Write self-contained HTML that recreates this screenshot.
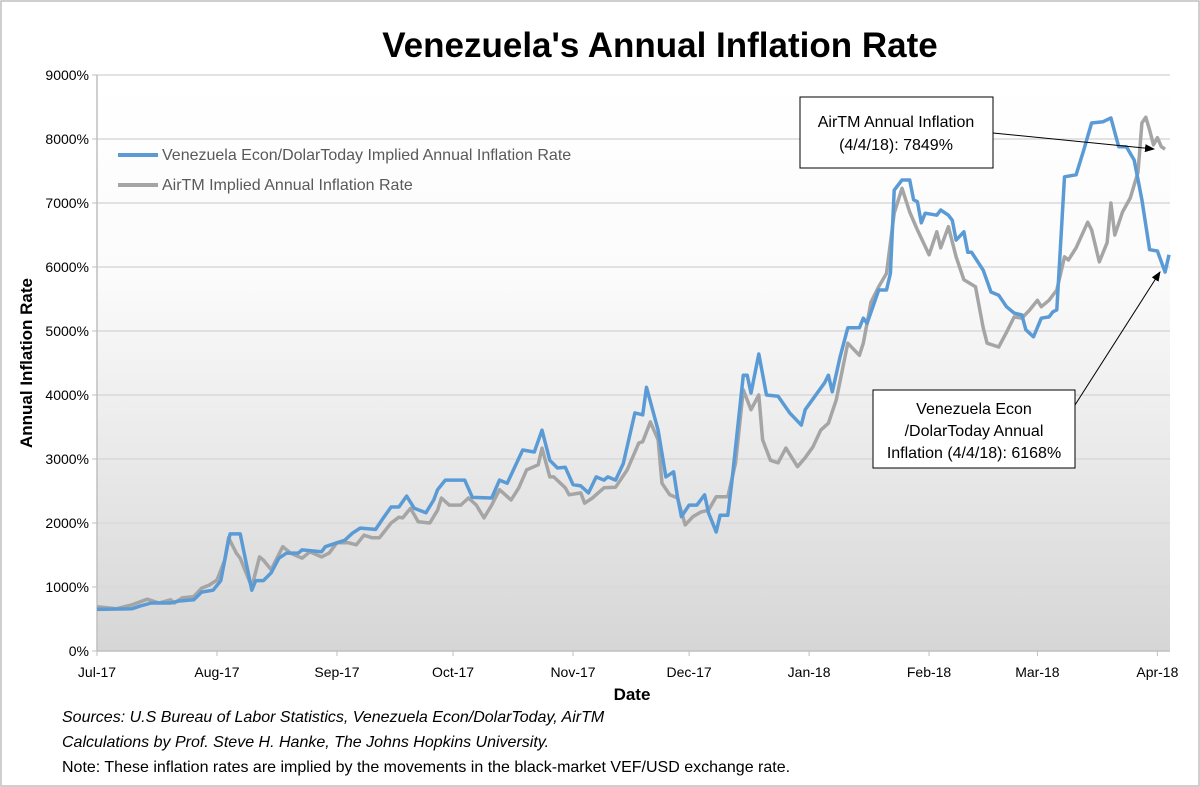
<!DOCTYPE html>
<html><head><meta charset="utf-8"><style>
body{margin:0;background:#fff;}
svg{display:block;font-family:"Liberation Sans",sans-serif;}
</style></head><body>
<svg id="chart" width="1200" height="787" viewBox="0 0 1200 787">
<defs>
<linearGradient id="bg" x1="0" y1="0" x2="0" y2="1">
<stop offset="0" stop-color="#ffffff"/><stop offset="0.35" stop-color="#fbfbfb"/><stop offset="1" stop-color="#d6d6d6"/>
</linearGradient>
<marker id="ah" markerWidth="10" markerHeight="8" refX="9" refY="4" orient="auto"><path d="M0,0 L10,4 L0,8 z" fill="#000"/></marker>
</defs>
<rect x="1" y="1" width="1198" height="785" fill="#fff" stroke="#bfbfbf" stroke-width="1.5"/>
<rect x="97" y="75" width="1073" height="576" fill="url(#bg)"/>
<text x="660" y="57" font-size="35" font-weight="bold" text-anchor="middle" fill="#000">Venezuela's Annual Inflation Rate</text>
<g id="grid"></g><g id="yt"></g><g id="xt"></g><g id="lines"></g>
<text x="632" y="700" font-size="17" font-weight="bold" text-anchor="middle">Date</text>
<text transform="translate(32,363) rotate(-90)" font-size="17" font-weight="bold" text-anchor="middle">Annual Inflation Rate</text>
<g>
<line x1="118" y1="155" x2="158" y2="155" stroke="#5b9bd5" stroke-width="4"/>
<text x="162" y="160" font-size="16" fill="#595959">Venezuela Econ/DolarToday Implied Annual Inflation Rate</text>
<line x1="118" y1="185" x2="158" y2="185" stroke="#a5a5a5" stroke-width="4"/>
<text x="162" y="190" font-size="16" fill="#595959">AirTM Implied Annual Inflation Rate</text>
</g>
<g>
<line x1="993" y1="133" x2="1154" y2="149" stroke="#000" stroke-width="1" marker-end="url(#ah)"/>
<rect x="800" y="97" width="193" height="71" fill="#fff" stroke="#000" stroke-width="1"/>
<text x="896" y="127" font-size="16" text-anchor="middle">AirTM Annual Inflation</text>
<text x="896" y="150" font-size="16" text-anchor="middle">(4/4/18): 7849%</text>
</g>
<g>
<line x1="1075" y1="405" x2="1160" y2="272" stroke="#000" stroke-width="1" marker-end="url(#ah)"/>
<rect x="873" y="390" width="202" height="78" fill="#fff" stroke="#000" stroke-width="1"/>
<text x="974" y="414" font-size="16" text-anchor="middle">Venezuela Econ</text>
<text x="974" y="436" font-size="16" text-anchor="middle">/DolarToday Annual</text>
<text x="974" y="458" font-size="16" text-anchor="middle">Inflation (4/4/18): 6168%</text>
</g>
<g font-size="16">
<text x="62" y="722" font-style="italic">Sources: U.S Bureau of Labor Statistics, Venezuela Econ/DolarToday, AirTM</text>
<text x="62" y="747" font-style="italic">Calculations by Prof. Steve H. Hanke, The Johns Hopkins University.</text>
<text x="62" y="772">Note: These inflation rates are implied by the movements in the black-market VEF/USD exchange rate.</text>
</g>
</svg>
<script>
const yTicks=[0,1000,2000,3000,4000,5000,6000,7000,8000,9000];
const xTickLabels=["Jul-17","Aug-17","Sep-17","Oct-17","Nov-17","Dec-17","Jan-18","Feb-18","Mar-18","Apr-18"];
const xTickDays=[0,31,62,92,123,153,184,215,243,274];
const blueDays=[0,9,11,14,19,21,25,27,30,32,34,34.4,37,40,41,43,45,47,49,52,53,58,59,62,64,66,68,72,74,76,78,80,82,85,87,88,90,95,97,102,104,106,110,113,115,117,119,121,123,125,127,129,131,132,134,136,139,141,142,145,147,149,150,151,153,155,157,158,160,161,163,164,167,168,169,171,173,176,179,182,183,188,189,190,192,194,197,198,199,202,204,205,206,208,210,211,212,213,214,217,218,220,221,222,224,225,226,229,231,233,235,237,239,240,242,244,246,247,248,250,253,255,257,260,262,264,266,268,270,272,274,276,277];
const blueVals=[650,660,700,750,750,780,800,920,950,1100,1730,1830,1830,950,1100,1100,1220,1450,1530,1530,1580,1550,1630,1690,1730,1840,1920,1900,2080,2250,2250,2420,2230,2160,2360,2520,2670,2670,2400,2390,2670,2620,3140,3110,3450,2980,2860,2870,2600,2580,2470,2720,2670,2720,2670,2930,3720,3690,4120,3450,2720,2800,2410,2100,2280,2280,2440,2160,1860,2120,2120,2620,4310,4310,4030,4640,4000,3980,3720,3530,3770,4190,4310,4050,4590,5050,5050,5200,5120,5640,5640,5900,7200,7360,7360,7050,7020,6690,6840,6810,6890,6810,6730,6420,6550,6230,6230,5950,5610,5560,5380,5280,5250,5020,4910,5200,5220,5300,5330,7410,7440,7830,8250,8270,8330,7880,7880,7670,7050,6270,6250,5920,6190];
const grayDays=[0,5,9,13,16,19,20,22,25,27,29,31,33,34,36,37,40,42,43,45,46,48,50,53,55,58,60,62,65,67,69,71,73,76,78,79,81,83,86,88,89,91,94,96,98,100,102,104,107,109,111,114,115,117,118,121,122,125,126,128,131,134,137,140,141,143,145,146,148,150,152,154,156,158,160,163,165,167,169,171,172,174,176,178,181,183,185,187,189,191,194,197,198,200,202,204,206,208,210,212,215,217,218,220,222,224,227,229,230,233,235,237,239,241,243,244,246,248,250,251,253,256,257,259,261,262,263,265,267,269,270,271,272,273,274,275,276];
const grayVals=[690,660,720,810,750,800,750,830,850,980,1030,1110,1420,1770,1530,1450,1000,1470,1420,1270,1390,1630,1530,1450,1550,1470,1530,1690,1690,1660,1810,1770,1770,2000,2090,2080,2230,2020,2000,2200,2390,2280,2280,2390,2280,2080,2280,2520,2360,2550,2830,2910,3170,2720,2720,2550,2440,2470,2310,2390,2550,2560,2830,3250,3270,3580,3300,2620,2440,2390,1970,2100,2170,2200,2410,2410,2940,4080,3770,4000,3300,2980,2940,3170,2880,3020,3190,3450,3560,3920,4810,4620,4810,5450,5690,5900,6840,7230,6860,6580,6190,6550,6300,6630,6160,5800,5690,5050,4810,4750,4980,5220,5200,5330,5480,5380,5480,5640,6160,6110,6300,6700,6580,6080,6380,7000,6500,6860,7080,7480,8250,8340,8140,7910,8020,7880,7840];

const NS="http://www.w3.org/2000/svg";
const X0=97,PX=3.87,Y0=651,PY=0.064;
function xs(d){return X0+d*PX;}
function ys(v){return Y0-v*PY;}
function mk(tag,attrs,parent){const e=document.createElementNS(NS,tag);for(const k in attrs)e.setAttribute(k,attrs[k]);document.getElementById(parent).appendChild(e);return e;}
yTicks.forEach(function(t){
  const y=ys(t);
  if(t>0){const g=mk('line',{x1:X0,x2:1170,y1:y,y2:y,stroke:'#d9d9d9','stroke-width':1.5},'grid');
  
  }
  const tk=mk('line',{x1:X0-5,x2:X0,y1:y,y2:y,stroke:'#bfbfbf'},'grid');
  
  
  const tx=mk('text',{x:X0-8,y:y+5,'font-size':14,'text-anchor':'end',fill:'#000'},'yt');
  tx.textContent=t+'%';
  
  
});
const ax=mk('line',{x1:X0,x2:X0,y1:75,y2:Y0,stroke:'#bfbfbf','stroke-width':1.5},'grid');


const bx=mk('line',{x1:X0,x2:1170,y1:Y0,y2:Y0,stroke:'#bfbfbf','stroke-width':1.5},'grid');


xTickDays.forEach(function(d,i){
  const x=xs(d);
  const tk=mk('line',{x1:x,x2:x,y1:Y0,y2:Y0+5,stroke:'#bfbfbf'},'xt');
  
  
  const tx=mk('text',{x:x,y:Y0+26,'font-size':14,'text-anchor':'middle'},'xt');
  tx.textContent=xTickLabels[i];
  
  
});
function path(days,vals){return days.map(function(d,i){return (i?'L':'M')+xs(d).toFixed(1)+','+ys(vals[i]).toFixed(1);}).join(' ');}
const gl=mk('path',{d:path(grayDays,grayVals),fill:'none',stroke:'#a5a5a5','stroke-width':3.5,'stroke-linejoin':'round'},'lines');


const bl=mk('path',{d:path(blueDays,blueVals),fill:'none',stroke:'#5b9bd5','stroke-width':3.5,'stroke-linejoin':'round'},'lines');


</script>
</body></html>
